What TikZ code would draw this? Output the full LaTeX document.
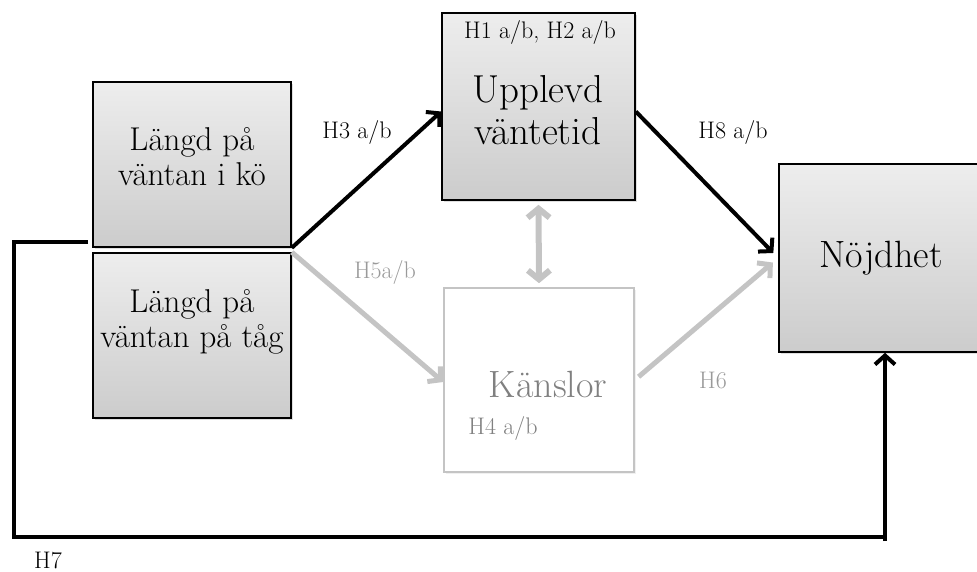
\documentclass[tikz,border=0pt]{standalone}
\usetikzlibrary{arrows.meta,shadows,calc}
\definecolor{lgray}{HTML}{C4C4C4}
\definecolor{tgray}{HTML}{808080}
\definecolor{lblgray}{HTML}{9A9A9A}
\tikzset{
  box/.style={draw=black,line width=1.6pt,top color=white!93!black,bottom color=white!80!black,
    drop shadow={opacity=0.25,shadow xshift=2pt,shadow yshift=-2pt},
    align=center,inner sep=0pt},
  softbox/.style={draw=lgray,line width=1.6pt,fill=white,
    drop shadow={opacity=0.12,shadow xshift=2pt,shadow yshift=-2pt},
    align=center,inner sep=0pt},
  tip/.tip={Straight Barb[length=9pt,width=20pt]},
  blk/.style={line width=4pt,draw=black,-tip},
  gry/.style={line width=5pt,draw=lgray,-tip},
  lbl/.style={font=\fontsize{24}{28}\selectfont,inner sep=0pt},
  big/.style={align=center,inner sep=0pt},
}
\begin{document}
\begin{tikzpicture}[x=1pt,y=-1pt]
\useasboundingbox (0,0) rectangle (977,572);
% boxes
\node[box,minimum width=198pt,minimum height=165pt] (k1) at (192,164.5) {};
\node[box,minimum width=198pt,minimum height=165pt] (k2) at (192,335.5) {};
\node[box,minimum width=193pt,minimum height=187pt] (up) at (538.5,106.5) {};
\node[softbox,minimum width=190pt,minimum height=184pt] (ka) at (539,380) {};
\node[box,minimum width=204pt,minimum height=188pt] (nj) at (881,258) {};
% texts
\node[big,font=\fontsize{33}{35}\selectfont] (t1) at (192,157) {Längd på\\väntan i kö};
\node[big,font=\fontsize{33}{35}\selectfont] (t2) at (192,322) {Längd på\\väntan på tåg};
\node[big,font=\fontsize{39}{42}\selectfont] (t3) at (538,110) {Upplevd\\väntetid};
\node[lbl] (h12) at (540,33) {H1 a/b, H2 a/b};
\node[big,font=\fontsize{38}{40}\selectfont,text=tgray] (t4) at (548,384) {Känslor};
\node[lbl,text=tgray] (h4) at (503,428) {H4 a/b};
\node[big,font=\fontsize{38}{40}\selectfont] (t5) at (881,258) {Nöjdhet};
% labels
\node[lbl] (h3) at (357,133) {H3 a/b};
\node[lbl] (h8) at (733,133) {H8 a/b};
\node[lbl,text=lblgray] (h5) at (385,272) {H5a/b};
\node[lbl,text=lblgray] (h6) at (713,380) {H6};
\node[lbl] (h7) at (48,560) {H7};
% connectors
\draw[blk] (k1.south east) -- ($(up.west)+(0,5)$);
\draw[blk,shorten >=7pt] ($(up.east)+(0,5)$) -- (nj.west);
\draw[gry] (k2.north east) -- ($(ka.west)+(0,2)$);
\draw[gry,shorten >=7pt,shorten <=5pt] (ka.east) -- (nj.west);
\draw[line width=6pt,draw=lgray,{Straight Barb[length=9pt,width=22pt]}-{Straight Barb[length=9pt,width=22pt]}] ($(up.south)+(0,4)$) -- ($(ka.north)+(0,-4)$);
\coordinate (s7) at (88,242);
\coordinate (c1) at (14,242);
\coordinate (c2) at (14,537);
\coordinate (c3) at (885,537);
\draw[line width=4pt] (s7) -- (c1) -- (c2) -- (c3);
\draw[blk] (885,541) -- (c3 |- nj.south);
\end{tikzpicture}
\end{document}
